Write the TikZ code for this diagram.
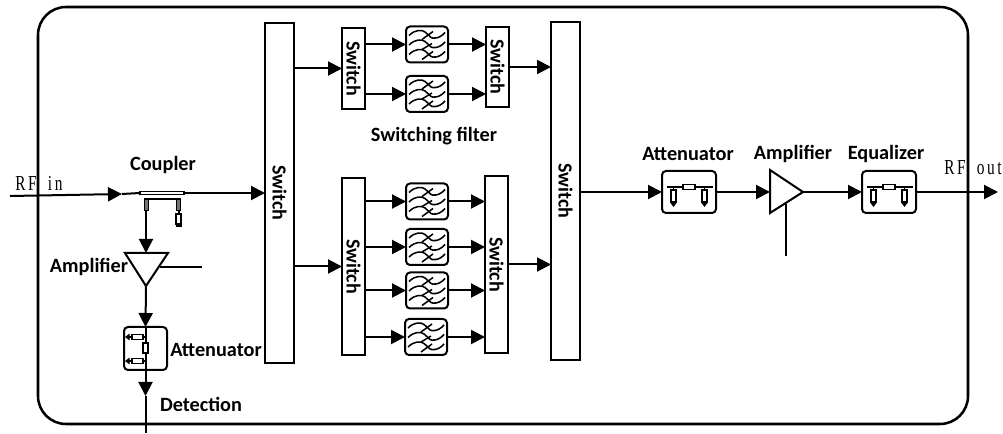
\documentclass[tikz,border=0pt]{standalone}
\usepackage{fontspec}
\setmainfont{Carlito}
\newfontfamily\rffont[FakeStretch=0.72,LetterSpace=12]{Liberation Serif}
\usetikzlibrary{arrows.meta}
\tikzset{
  lw/.style={line width=1.5pt},
  arr/.style={lw,-{Triangle[length=10.5pt,width=10.5pt]}},
  plain/.style={lw},
  bx/.style 2 args={minimum width=#1*0.75pt,minimum height=#2*0.75pt},
  switchbox/.style={draw,lw,fill=white,inner sep=0pt,outer sep=0pt,font=\bfseries\fontsize{15pt}{16pt}\selectfont},
  modbox/.style={draw,lw,rounded corners=3pt,inner sep=0pt,outer sep=0pt,bx={54}{42}},
  filterbox/.style={draw,lw,fill=white,rounded corners=3pt,inner sep=0pt,outer sep=0pt,bx={42}{36},
    path picture={
      \begin{scope}[shift={(path picture bounding box.center)},line width=1.15pt]
        \foreach \d in {-10,-0.5,9}{
          \draw (-18,\d+1) .. controls (-12,\d-5) and (-5,\d-5) .. (1,\d)
                .. controls (5,\d+4) and (12,\d+5) .. (18,\d-2);}
        \draw (-5,-5) -- (6,-13);
        \draw (-5,5) -- (5,-1);
        \draw (-5,15) -- (6,7);
      \end{scope}}},
  lab/.style={font=\bfseries\fontsize{15.2pt}{17pt}\selectfont,inner sep=0pt},
  rflab/.style={font=\rffont\fontsize{16pt}{18pt}\selectfont,inner sep=0pt},
  res/.style={draw,fill=white,line width=1.1pt},
  gnd/.style={line width=1.1pt,-{Triangle[length=3.5pt,width=5pt]}},
  frame/.style={draw,line width=1.9pt,rounded corners=21pt}
}
\newcommand{\attenh}[1]{%
  \begin{scope}[shift={(#1)}]
    \draw[line width=1.1pt] (-22,-5) -- (24,-5);
    \draw[res] (-6,-7.5) rectangle (6,-2.5);
    \foreach \xx in {-15.5,15.5}{
      \draw[gnd] (\xx,-5) -- (\xx,15);
      \draw[res] (\xx-2.5,-2) rectangle (\xx+2.5,10);}
  \end{scope}}
\begin{document}
\begin{tikzpicture}[x=0.75pt,y=-0.75pt]
\useasboundingbox (0,0) rectangle (1003,434);
\fill[white] (0,0) rectangle (1003,434);
\node[frame,inner sep=0pt,outer sep=0pt,bx={930}{417}] (outer) at (503,215.5) {};

% switches
\node[switchbox,bx={29}{340}] (s1) at (279.5,193) {\rotatebox{-90}{Switch}};
\node[switchbox,bx={23}{81}] (s2) at (353.5,68.5) {\rotatebox{-90}{Switch}};
\node[switchbox,bx={23}{80}] (s3) at (497.5,67) {\rotatebox{-90}{Switch}};
\node[switchbox,bx={23}{177}] (s5) at (353.5,266.5) {\rotatebox{-90}{Switch}};
\node[switchbox,bx={23}{177}] (s6) at (496.5,264.5) {\rotatebox{-90}{Switch}};
\node[switchbox,bx={29}{338}] (s4) at (565.5,191) {\rotatebox{-90}{Switch}};

% filters
\node[filterbox] (f1) at (427,44.5) {};
\node[filterbox] (f2) at (427,94) {};
\node[filterbox] (f3) at (427,201.5) {};
\node[filterbox] (f4) at (427,247) {};
\node[filterbox] (f5) at (427,290.5) {};
\node[filterbox] (f6) at (426,337) {};

% filter connectors
\draw[arr] (s1.east |- s2.west) -- (s2.west);
\draw[arr] (s1.east |- s5.west) -- (s5.west);
\foreach \f/\a/\b in {f1/s2/s3,f2/s2/s3,f3/s5/s6,f4/s5/s6,f5/s5/s6,f6/s5/s6}{
  \draw[arr] (\a.east |- \f.west) -- (\f.west);
  \draw[arr] (\f.east) -- (\b.west |- \f.east);
}
\draw[arr] (s3.east) -- (s4.west |- s3.east);
\draw[arr] (s6.east) -- (s4.west |- s6.east);

% right chain
\node[modbox] (att) at (689,192) {};
\node[modbox] (eq) at (889,192) {};
\coordinate (ampR) at (770,192);
\coordinate (ampTip) at (803,192);
\coordinate (ampCtl) at (786,204);
\coordinate (ampCtlEnd) at (786,256);
\coordinate (rfoutEnd) at (998,192);
\draw[arr] (s4.east |- att.west) -- (att.west);
\draw[arr] (att.east) -- (ampR);
\draw[arr] (ampTip) -- (eq.west);
\draw[arr] (eq.east) -- (rfoutEnd);
\draw[plain] (ampCtl) -- (ampCtlEnd);
\draw[lw,fill=white,line join=miter] (ampR |- 0,170) -- (ampTip) -- (ampR |- 0,213) -- cycle;
\attenh{att.center}
\attenh{eq.center}

% coupler and left chain
\coordinate (rfinStart) at (10,196);
\coordinate (rfinArrow) at (122,194);
\coordinate (coupL) at (140,193);
\coordinate (coupR) at (184,193);
\coordinate (cplOut) at (146,210);
\coordinate (amp2L) at (125,253);
\coordinate (amp2Top) at (146,253);
\coordinate (amp2Tip) at (146,286);
\coordinate (amp2Ctl) at (160,267);
\coordinate (amp2CtlEnd) at (202,267);
\coordinate (att2Top) at (145.5,327);
\coordinate (det) at (145.5,396);
\coordinate (detEnd) at (145.5,433);
\draw[arr] (rfinStart) -- (rfinArrow);
\draw[plain] (rfinArrow) -- (coupL);
\draw[arr] (coupR) -- (s1.west |- coupR);
\draw[res] (coupL) ++(0,-1.5) rectangle (184,194.5);
\draw[line width=1.3pt] (144,199) -- (181,199);
\draw[arr] (cplOut) -- (amp2Top);
\draw[draw=black,fill=black!55,line width=.6pt] (144,199) rectangle (148,210);
\draw[draw=black,fill=black!55,line width=.6pt] (176.5,199) rectangle (180.5,210);
\draw[plain] (178.5,210) -- (178.5,214);
\draw[res] (176,214) rectangle (181,224);
\draw[line width=1.2pt] (175.5,226) -- (181.5,226);
\draw[lw,fill=white,line join=miter] (amp2L) -- (168,253) -- (amp2Tip) -- cycle;
\draw[plain] (amp2Ctl) -- (amp2CtlEnd);
\draw[arr] (amp2Tip) -- (att2Top);
\node[modbox,bx={43}{43}] (att2) at (145.5,348.5) {};
\draw[arr] (att2.south) -- (det);
\draw[plain] (att2Top) -- (att2.south);
\draw[plain] (det) -- (detEnd);
\draw[res] (143,343) rectangle (148,353);
\foreach \yy in {337,361}{
  \draw[gnd] (145,\yy) -- (125,\yy);
  \draw[res] (132,\yy-2.5) rectangle (143,\yy+2.5);}

% labels
\node[lab] (tCoupler) at (163,165) {Coupler};
\node[lab] (tAmp2) at (89,267) {Amplifier};
\node[lab] (tAtt2) at (216,350) {Attenuator};
\node[lab] (tDet) at (201,404) {Detection};
\node[lab] (tSw) at (434,136) {Switching filter};
\node[lab] (tAtt) at (688,154) {Attenuator};
\node[lab] (tAmp) at (793,154) {Amplifier};
\node[lab] (tEq) at (886,154) {Equalizer};
\node[rflab,anchor=west] (tIn) at (15,183) {RF\hspace{8.5pt}in};
\node[rflab,anchor=west] (tOut) at (944,168) {RF\hspace{8.5pt}out};
\end{tikzpicture}
\end{document}
